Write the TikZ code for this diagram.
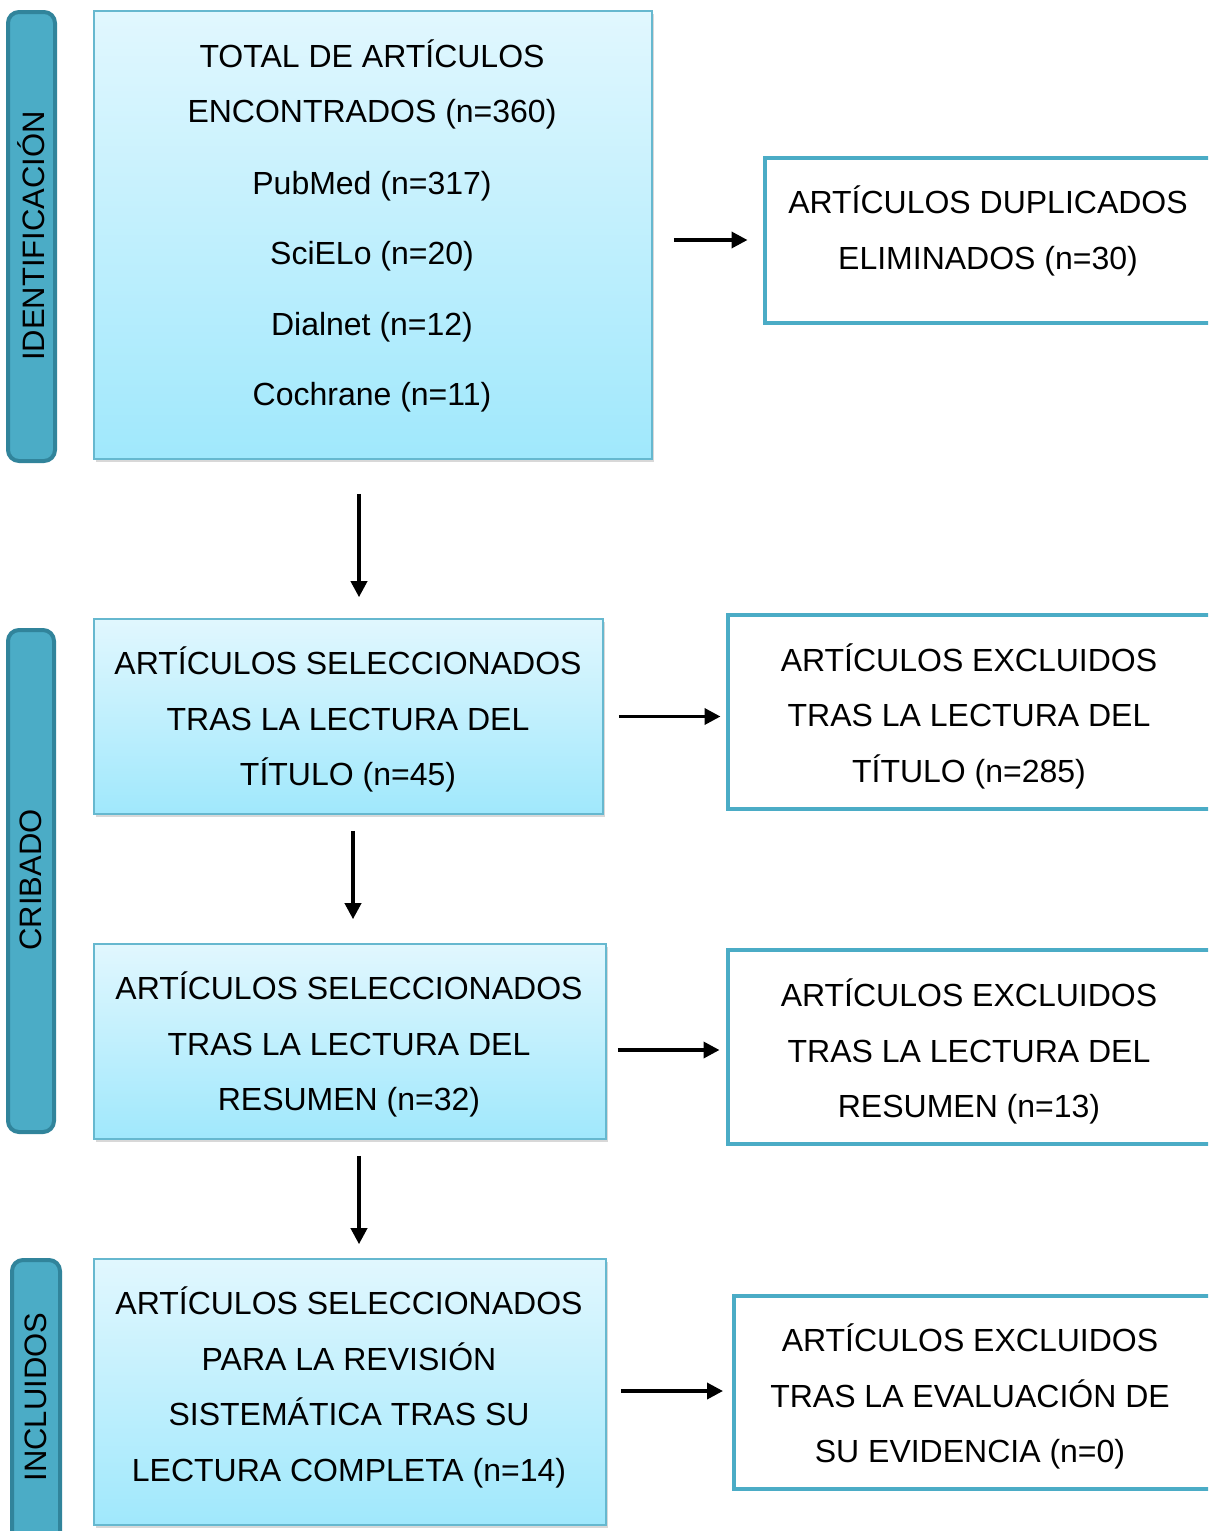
\documentclass[tikz,border=0pt]{standalone}
\usepackage{fontspec}
\setmainfont{Liberation Sans}
\usetikzlibrary{arrows.meta,shadows,calc}
\definecolor{accent}{HTML}{4BACC6}
\definecolor{accentdark}{HTML}{31849B}
\definecolor{gradtop}{HTML}{E1F7FE}
\definecolor{gradbot}{HTML}{A0E8FC}
\begin{document}
\begin{tikzpicture}[x=1pt,y=-1pt,
  bluebox/.style={draw=accent!85!white, line width=1.6pt, top color=gradtop, bottom color=gradbot,
     drop shadow={opacity=0.3, shadow xshift=2pt, shadow yshift=-3pt}, inner sep=0pt},
  whitebox/.style={draw=accent, line width=4pt, fill=white, inner sep=0pt},
  sidebox/.style={draw=accentdark, line width=4pt, fill=accent, rounded corners=11pt, inner sep=0pt},
  boxtext/.style={align=center, font=\fontsize{32}{55.5}\selectfont, inner sep=0pt},
  sidetext/.style={rotate=90, font=\fontsize{31}{36}\selectfont, inner sep=0pt},
  arr/.style={line width=3.6pt, -{Triangle[length=16pt,width=16pt]}}]
\useasboundingbox (0,0) rectangle (1208,1531);
\clip (0,0) rectangle (1208,1531);
\fill[white] (0,0) rectangle (1208,1531);

% side labels
\node[sidebox, minimum width=47pt, minimum height=449pt] (s1) at (31.5,236.5) {};
\node[sidetext] (s1t) at (31.5,236) {IDENTIFICACIÓN};
\node[sidebox, minimum width=46pt, minimum height=502pt] (s2) at (31,881) {};
\node[sidetext] (s2t) at (31,880) {CRIBADO};
\node[sidebox, minimum width=48pt, minimum height=300pt] (s3) at (36,1410) {};
\node[sidetext] (s3t) at (36,1397) {INCLUIDOS};

% left boxes
\node[bluebox, minimum width=558pt, minimum height=448pt] (b1) at (373,235) {};
\node[boxtext] (b1t) at (372,226) {TOTAL DE ARTÍCULOS\\ENCONTRADOS (n=360)\\[16pt]PubMed (n=317)\\[15pt]SciELo (n=20)\\[15pt]Dialnet (n=12)\\[15pt]Cochrane (n=11)};
\node[bluebox, minimum width=509pt, minimum height=195pt] (b2) at (348.5,716.5) {};
\node[boxtext] (b2t) at (348,719.5) {ARTÍCULOS SELECCIONADOS\\TRAS LA LECTURA DEL\\TÍTULO (n=45)};
\node[bluebox, minimum width=512pt, minimum height=195pt] (b3) at (350,1041.5) {};
\node[boxtext] (b3t) at (349,1044.5) {ARTÍCULOS SELECCIONADOS\\TRAS LA LECTURA DEL\\RESUMEN (n=32)};
\node[bluebox, minimum width=512pt, minimum height=266pt] (b4) at (350,1392) {};
\node[boxtext] (b4t) at (349,1387.5) {ARTÍCULOS SELECCIONADOS\\PARA LA REVISIÓN\\SISTEMÁTICA TRAS SU\\LECTURA COMPLETA (n=14)};

% right boxes
\node[whitebox, minimum width=475.5pt, minimum height=165pt] (d1) at (1002.25,240) {};
\node[boxtext] (d1t) at (988,231) {ARTÍCULOS DUPLICADOS\\ELIMINADOS (n=30)};
\node[whitebox, minimum width=512.5pt, minimum height=194pt] (e1) at (983.75,711.5) {};
\node[boxtext] (e1t) at (969,716) {ARTÍCULOS EXCLUIDOS\\TRAS LA LECTURA DEL\\TÍTULO (n=285)};
\node[whitebox, minimum width=512.5pt, minimum height=194pt] (e2) at (983.75,1046.5) {};
\node[boxtext] (e2t) at (969,1051.5) {ARTÍCULOS EXCLUIDOS\\TRAS LA LECTURA DEL\\RESUMEN (n=13)};
\node[whitebox, minimum width=506pt, minimum height=193pt] (e3) at (987,1392) {};
\node[boxtext] (e3t) at (970,1396.5) {ARTÍCULOS EXCLUIDOS\\TRAS LA EVALUACIÓN DE\\SU EVIDENCIA (n=0)};

% connectors
\draw[arr, shorten <=21pt, shorten >=15pt] (b1.east |- d1.west) -- (d1.west);
\draw[arr, shorten <=34pt, shorten >=21pt] ([xshift=-14pt]b1.south) -- ([xshift=-14pt]b1.south |- b2.north);
\draw[arr, shorten <=15pt, shorten >=5pt] (b2.east) -- (b2.east -| e1.west);
\draw[arr, shorten <=16pt, shorten >=24pt] ([xshift=4.5pt]b2.south) -- ([xshift=4.5pt]b2.south |- b3.north);
\draw[arr, shorten <=11pt, shorten >=6pt] ([yshift=-8.5pt]b3.east) -- ([yshift=-8.5pt]b3.east -| e2.west);
\draw[arr, shorten <=16pt, shorten >=14pt] ([xshift=9pt]b3.south) -- ([xshift=9pt]b3.south |- b4.north);
\draw[arr, shorten <=14pt, shorten >=9pt] ([yshift=1pt]b4.east) -- ([yshift=1pt]b4.east -| e3.west);
\end{tikzpicture}
\end{document}
